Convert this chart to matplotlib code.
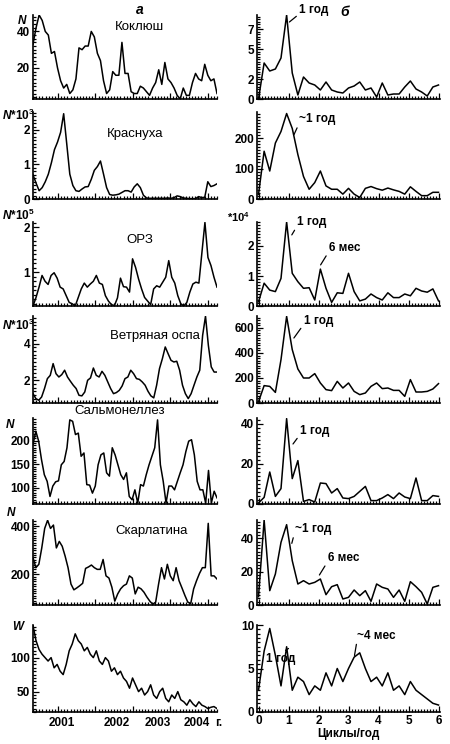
"""Seasonal incidence series (left) and their spectra (right), 7 infections."""

import numpy as np
import matplotlib

matplotlib.use("Agg")
import matplotlib.pyplot as plt
from matplotlib.ticker import FixedLocator, MultipleLocator

plt.rcParams["font.family"] = ["Liberation Sans", "DejaVu Sans"]
plt.rcParams["mathtext.fontset"] = "custom"
plt.rcParams["mathtext.it"] = "Liberation Sans:bold:italic"
plt.rcParams["mathtext.rm"] = "Liberation Sans:bold"

T_START, T_END = 2000.33, 2005.25
F_START, F_END = 0.0, 6.0
YEAR_TICKS = [2001, 2002, 2003, 2004, 2005]
YEAR_LABELS = ["2001", "2002", "2003", "2004", "г."]
YEAR_LABEL_POS = [2001.11, 2002.58, 2003.67, 2004.71, 2005.3]
FREQ_TICKS = [0, 1, 2, 3, 4, 5, 6]

# --- monthly series (left column) ---
pertussis = [33, 42, 49, 46, 40, 38, 28, 29, 20, 13, 9, 11, 6, 8, 14, 31, 30, 32, 32, 40,
             37, 28, 24, 13, 6, 8, 18, 16, 16, 34, 17, 17, 7, 6, 6, 10, 9, 7, 5, 9,
             12, 19, 11, 23, 14, 12, 9, 5, 3, 9, 5, 5, 12, 17, 14, 13, 22, 16, 13, 14, 6]
rubella = [0.70, 0.46, 0.24, 0.33, 0.50, 0.72, 1.05, 1.43, 1.65, 1.93, 2.47, 1.6, 0.72, 0.39,
           0.24, 0.22, 0.29, 0.35, 0.36, 0.57, 0.83, 0.94, 1.1, 0.72, 0.33, 0.13, 0.11, 0.12,
           0.14, 0.19, 0.24, 0.24, 0.2, 0.35, 0.44, 0.33, 0.11, 0.03, 0.02, 0.02, 0.02, 0.02,
           0.02, 0.02, 0.03, 0.02, 0.04, 0.09, 0.07, 0.03, 0.02, 0.01, 0.01, 0.01, 0.07,
           0.04, 0.05, 0.5, 0.36, 0.39, 0.44]
ari = [0.25, 0.44, 0.67, 0.93, 0.8, 0.73, 0.93, 0.99, 0.87, 0.67, 0.63, 0.48, 0.33, 0.3,
       0.25, 0.44, 0.63, 0.76, 0.67, 0.74, 0.8, 0.93, 0.76, 0.73, 0.48, 0.36, 0.28, 0.26,
       0.43, 0.87, 0.68, 0.67, 0.56, 1.3, 1.11, 0.85, 0.63, 0.44, 0.36, 0.28, 0.63, 0.7,
       0.67, 0.78, 0.89, 1.26, 0.89, 0.76, 0.48, 0.3, 0.25, 0.33, 0.56, 0.74, 0.78, 0.76,
       1.44, 2.11, 1.33, 1.15, 0.89, 0.67]
chickenpox = [1.27, 1.0, 0.91, 1.09, 1.55, 2.09, 2.27, 2.91, 2.36, 2.18, 2.31, 2.55, 2.18,
              1.95, 1.73, 1.55, 1.18, 1.15, 1.36, 2.0, 2.13, 2.67, 2.27, 2.18, 2.49, 2.27,
              1.91, 1.55, 1.27, 1.33, 1.45, 1.69, 2.09, 2.18, 2.55, 2.36, 2.09, 2.05, 1.91,
              1.73, 1.4, 1.15, 1.04, 1.73, 2.64, 3.18, 3.82, 3.45, 3.09, 3.0, 3.04, 2.55,
              1.73, 1.27, 1.0, 1.27, 1.73, 2.18, 2.55, 4.45, 5.5, 3.9, 2.73, 2.45, 2.45]
salmonella = [192, 220, 199, 160, 128, 114, 82, 104, 113, 115, 149, 156, 185, 244, 241, 213,
              216, 167, 174, 107, 106, 89, 104, 149, 170, 174, 132, 125, 185, 170, 149, 128,
              118, 132, 82, 75, 96, 68, 107, 104, 128, 149, 167, 185, 244, 149, 114, 68, 104,
              104, 96, 114, 132, 149, 177, 199, 202, 170, 114, 96, 96, 68, 137, 68, 93, 79]
scarlet = [268, 227, 241, 309, 390, 424, 390, 404, 309, 336, 316, 275, 227, 159, 135, 143,
           152, 162, 224, 230, 238, 227, 220, 220, 261, 193, 184, 146, 88, 118, 139, 152, 159,
           193, 184, 118, 146, 139, 125, 105, 88, 75, 84, 159, 227, 180, 241, 193, 173, 227,
           173, 143, 112, 84, 78, 139, 173, 203, 227, 227, 411, 193, 193, 180]
w_index = [147, 125, 112, 105, 100, 95, 100, 85, 90, 80, 75, 90, 110, 120, 135, 125, 120,
           110, 115, 105, 100, 110, 95, 90, 100, 95, 80, 85, 75, 80, 70, 65, 55, 70, 60, 50,
           55, 45, 50, 60, 45, 40, 50, 55, 40, 35, 45, 40, 50, 38, 35, 30, 38, 32, 28, 35,
           30, 28, 25, 27, 28, 25]

# --- spectra (right column) ---
pertussis_spec = [0, 3.6, 2.8, 3.0, 4.1, 8.4, 2.6, 0.4, 2.2, 1.6, 1.4, 0.9, 1.7, 0.9, 0.7,
                  0.6, 1.1, 1.3, 1.7, 0.9, 1.1, 0.2, 1.6, 0.4, 0.5, 0.5, 1.2, 1.8, 1.0, 0.7,
                  0.3, 1.2, 1.4]
rubella_spec = [15, 157, 92, 184, 222, 281, 232, 146, 74, 32, 54, 92, 43, 32, 32, 16, 35, 16,
                5, 35, 41, 34, 29, 36, 30, 25, 16, 40, 25, 11, 11, 22, 22]
ari_spec = [0.14, 0.76, 0.53, 0.48, 0.92, 2.8, 1.09, 0.81, 0.59, 0.61, 0.2, 1.23, 0.59, 0.12,
            0.44, 0.42, 1.09, 0.48, 0.17, 0.23, 0.4, 0.28, 0.2, 0.44, 0.28, 0.28, 0.4, 0.34,
            0.59, 0.5, 0.46, 0.57, 0.17]
chickenpox_spec = [10, 139, 133, 85, 347, 693, 427, 272, 200, 200, 235, 160, 107, 99, 173,
                   120, 160, 93, 67, 80, 133, 160, 115, 120, 101, 101, 53, 187, 88, 88, 93,
                   112, 155]
salmonella_spec = [0.5, 3.3, 16, 3.8, 7.7, 42.7, 12.7, 21.7, 1.3, 2.2, 1, 10.5, 10.2, 5.5,
                   7.7, 3, 2.7, 3.8, 6.3, 8.8, 1.7, 1.7, 3, 4.7, 2.7, 5.5, 3.5, 2.7, 13, 1.7,
                   1.7, 4.2, 3.8]
scarlet_spec = [5, 51, 8.6, 18.6, 37.6, 48.2, 26.6, 12.6, 14.6, 12.6, 13.6, 15.6, 6.2, 11,
                12.2, 3.6, 4.6, 9, 5.6, 8.6, 2.2, 12.6, 10.6, 9.6, 4.6, 9, 2.2, 14, 11, 7.6,
                0.6, 10.6, 11.6]
w_spec = [2.5, 7.0, 9.6, 6.5, 3.0, 7.5, 2.5, 4.0, 3.5, 2.0, 3.0, 2.5, 4.5, 3.0, 5.0, 3.5,
          5.0, 6.3, 6.8, 5.0, 3.5, 4.0, 3.0, 4.5, 2.5, 3.0, 2.0, 3.5, 2.5, 2.0, 1.5, 1.0, 0.8]

# panel rows, pixel extents (top, bottom) in the 450x744 canvas
ROWS = [(15, 99), (112, 199), (222, 306), (316, 403), (418, 504), (520, 605), (625, 712)]
LEFT_X, LEFT_W = 33, 184
RIGHT_X, RIGHT_W = 257, 183
W_PX, H_PX = 450, 744

PANELS = [
    dict(series=pertussis, spec=pertussis_spec, title="Коклюш", title_xy=(140, 27),
         ylabel="$N$", ylabel_xy=(17, 21), ylim=(3, 49), yticks=[20, 40], yminor=2,
         rlim=(0, 8.4), rticks=[0, 2, 5, 7], rminor=0.25,
         notes=[("1 год", (1.03, 7.7), (7, 4))]),
    dict(series=rubella, spec=rubella_spec, title="Краснуха", title_xy=(135, 134),
         ylabel="$N$*10$^3$", ylabel_xy=(2, 115), ylim=(0, 2.52), yticks=[0, 1, 2],
         yminor=0.1, rlim=(0, 286), rticks=[0, 100, 200], rminor=10,
         notes=[("~1 год", (1.18, 211), (4, 7))]),
    dict(series=ari, spec=ari_spec, title="ОРЗ", title_xy=(140, 240),
         ylabel="$N$*10$^5$", ylabel_xy=(2, 215), ylim=(0.25, 2.12), yticks=[1, 2],
         yminor=0.1, rlim=(0, 2.8), rticks=[0, 1, 2], rminor=0.1, rlabel="*10$^4$",
         notes=[("1 год", (1.11, 2.37), (4, 5)), ("6 мес", (2.07, 1.37), (6, 8))]),
    dict(series=chickenpox, spec=chickenpox_spec, title="Ветряная оспа", title_xy=(155, 336),
         ylabel="$N$*10$^3$", ylabel_xy=(2, 325), ylim=(0.76, 5.51), yticks=[2, 4],
         yminor=0.2, rlim=(0, 696), rticks=[0, 200, 400, 600], rminor=20,
         notes=[("1 год", (1.18, 520), (7, 8))]),
    dict(series=salmonella, spec=salmonella_spec, title="Сальмонеллез", title_xy=(120, 411),
         ylabel="$N$", ylabel_xy=(5, 424), ylim=(66, 248), yticks=[100, 150, 200], yminor=5,
         rlim=(0, 43), rticks=[0, 20, 40], rminor=2,
         notes=[("1 год", (1.15, 30), (5, 5))]),
    dict(series=scarlet, spec=scarlet_spec, title="Скарлатина", title_xy=(152, 531),
         ylabel="$N$", ylabel_xy=(6, 512), ylim=(72, 425), yticks=[200, 400], yminor=10,
         rlim=(0, 51), rticks=[0, 20, 40], rminor=2,
         notes=[("~1 год", (1.11, 37), (2, 6)), ("6 мес", (2.03, 18), (6, 8))]),
    dict(series=w_index, spec=w_spec, title=None, title_xy=None,
         ylabel="$W$", ylabel_xy=(12, 626), ylim=(20, 148), yticks=[50, 100], yminor=5,
         rlim=(0, 10), rticks=[0, 5, 10], rminor=0.5,
         notes=[("1 год", (1.0, 7.3), (-16, -12)), ("~4 мес", (3.2, 6.5), (2, 10))]),
]


def px_rect(x, w, top, bottom):
    return [x / W_PX, 1 - bottom / H_PX, w / W_PX, (bottom - top) / H_PX]


def px_text(x, y, text, **kw):
    fig.text(x / W_PX, 1 - y / H_PX, text, zorder=10, **kw)


def style_axes(ax):
    ax.set_facecolor("none")
    for side in ("top", "right"):
        ax.spines[side].set_visible(False)
    for side in ("left", "bottom"):
        ax.spines[side].set_linewidth(1.2)
    ax.tick_params(which="both", direction="in", width=0.9, labelsize=8.5, pad=2)
    ax.tick_params(which="major", length=4)
    ax.tick_params(which="minor", length=2)
    for lab in ax.get_yticklabels() + ax.get_xticklabels():
        lab.set_fontweight("bold")


fig = plt.figure(figsize=(4.5, 7.44), dpi=100)

for i, (panel, (top, bottom)) in enumerate(zip(PANELS, ROWS)):
    last = i == len(PANELS) - 1

    # left: time series
    ax = fig.add_axes(px_rect(LEFT_X, LEFT_W, top, bottom))
    t = np.linspace(T_START, T_END, len(panel["series"]))
    ax.plot(t, panel["series"], color="black", lw=1.1)
    ax.set_xlim(T_START, T_END)
    ax.set_ylim(*panel["ylim"])
    ax.yaxis.set_major_locator(FixedLocator(panel["yticks"]))
    ax.yaxis.set_minor_locator(MultipleLocator(panel["yminor"]))
    ax.xaxis.set_major_locator(FixedLocator(YEAR_TICKS))
    ax.xaxis.set_minor_locator(MultipleLocator(1 / 12))
    ax.set_xticklabels([])
    style_axes(ax)
    if last:
        for pos, lab in zip(YEAR_LABEL_POS, YEAR_LABELS):
            ax.text(pos, -0.06, lab, transform=ax.get_xaxis_transform(), ha="center",
                    va="top", fontsize=8.5, fontweight="bold")
    px_text(*panel["ylabel_xy"], panel["ylabel"], ha="left", va="center", fontsize=8.5,
            fontweight="bold")
    if panel["title"]:
        px_text(*panel["title_xy"], panel["title"], ha="center", va="center", fontsize=9.5)
    if i == 0:
        px_text(140, 10, "а", ha="center", va="center", fontsize=10, style="italic",
                fontweight="bold")

    # right: spectrum
    ax = fig.add_axes(px_rect(RIGHT_X, RIGHT_W, top, bottom))
    f = np.linspace(F_START, F_END, len(panel["spec"]))
    ax.plot(f, panel["spec"], color="black", lw=1.1)
    ax.set_xlim(F_START - 0.05, F_END + 0.05)
    ax.set_ylim(*panel["rlim"])
    ax.yaxis.set_major_locator(FixedLocator(panel["rticks"]))
    ax.yaxis.set_minor_locator(MultipleLocator(panel["rminor"]))
    ax.xaxis.set_major_locator(FixedLocator(FREQ_TICKS))
    ax.xaxis.set_minor_locator(MultipleLocator(0.1))
    if not last:
        ax.set_xticklabels([])
    else:
        ax.set_xlabel("Циклы/год", fontsize=8.5, fontweight="bold", labelpad=1)
    style_axes(ax)
    if panel.get("rlabel"):
        px_text(227, 217, panel["rlabel"], ha="left", va="center", fontsize=8,
                fontweight="bold")
    for text, xy, offset in panel["notes"]:
        ax.annotate(text, xy=xy, xytext=offset, textcoords="offset points", ha="left",
                    va="bottom", fontsize=8.5, fontweight="bold",
                    arrowprops=dict(arrowstyle="-", lw=0.9, shrinkA=0, shrinkB=0,
                                    relpos=(0, 0.2)))
    if i == 0:
        px_text(345, 12, "б", ha="center", va="center", fontsize=10, style="italic",
                fontweight="bold")

fig.savefig("out.png", dpi=100)
